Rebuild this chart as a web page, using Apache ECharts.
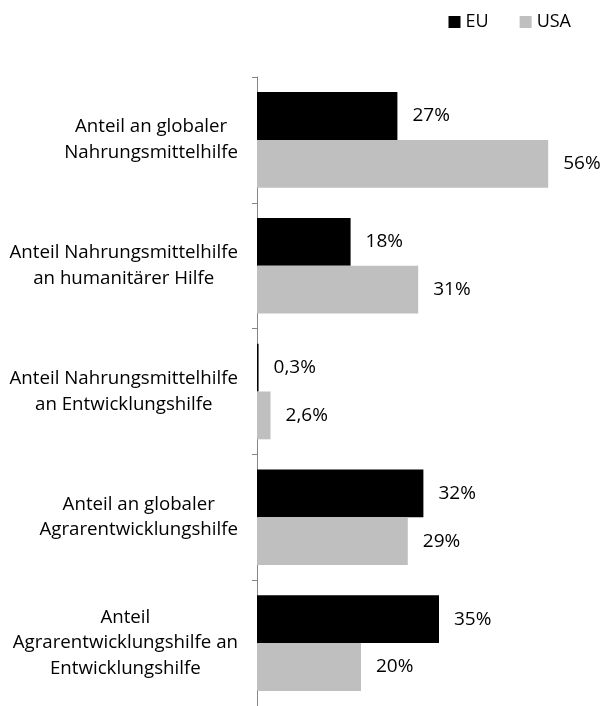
<!DOCTYPE html>
<html>
<head>
<meta charset="utf-8">
<script src="https://cdn.jsdelivr.net/npm/echarts@6/dist/echarts.min.js"></script>
<style>
html,body{margin:0;padding:0;background:#fff;}
#chart{width:602px;height:706px;}
</style>
</head>
<body>
<div id="chart"></div>
<script>
const categories = [
  ['Anteil an globaler', 'Nahrungsmittelhilfe'],
  ['Anteil Nahrungsmittelhilfe', 'an humanitärer Hilfe'],
  ['Anteil Nahrungsmittelhilfe', 'an Entwicklungshilfe'],
  ['Anteil an globaler', 'Agrarentwicklungshilfe'],
  ['Anteil', 'Agrarentwicklungshilfe an', 'Entwicklungshilfe']
];
const seriesNames = ['EU', 'USA'];
const euValues = [27, 18, 0.3, 32, 35];
const usaValues = [56, 31, 2.6, 29, 20];

const FONT = 'Open Sans';
const chart = echarts.init(document.getElementById('chart'));

const catLabels = categories.map(l => l.join('\n'));

function valueLabel(p) {
  return String(p.value).replace('.', ',') + '%';
}

chart.setOption({
  animation: false,
  backgroundColor: '#ffffff',
  textStyle: { fontFamily: FONT },
  legend: {
    data: seriesNames,
    top: 13,
    right: 31,
    padding: 0,
    itemWidth: 12,
    itemHeight: 12,
    itemGap: 31,
    icon: 'rect',
    textStyle: { fontFamily: FONT, fontSize: 18, color: '#000' }
  },
  grid: { left: 257, top: 77, right: 33, bottom: -1, containLabel: false },
  xAxis: {
    type: 'value', min: 0, max: 60, show: false,
    splitLine: { show: false }
  },
  yAxis: {
    type: 'category',
    inverse: true,
    data: catLabels,
    axisLine: { show: true, lineStyle: { color: '#868686', width: 1 } },
    axisTick: { show: true, length: 5, lineStyle: { color: '#868686' } },
    axisLabel: {
      margin: 19,
      color: '#000',
      fontFamily: FONT,
      fontSize: 18.7,
      formatter: function (v) {
        return v.split('\n').map(s => '{c|' + s + '}').join('\n');
      },
      rich: {
        c: { align: 'center', fontFamily: FONT, fontSize: 18.7, lineHeight: 25.5, color: '#000' }
      }
    }
  },
  series: [
    {
      name: 'EU', type: 'bar', data: euValues,
      itemStyle: { color: '#000000' },
      barGap: '0%', barCategoryGap: '24%',
      label: { show: true, position: 'right', distance: 15, color: '#000', fontFamily: FONT, fontSize: 19, formatter: valueLabel }
    },
    {
      name: 'USA', type: 'bar', data: usaValues,
      itemStyle: { color: '#bfbfbf' },
      barGap: '0%', barCategoryGap: '24%',
      label: { show: true, position: 'right', distance: 15, color: '#000', fontFamily: FONT, fontSize: 19, formatter: valueLabel }
    }
  ]
});
</script>
</body>
</html>
